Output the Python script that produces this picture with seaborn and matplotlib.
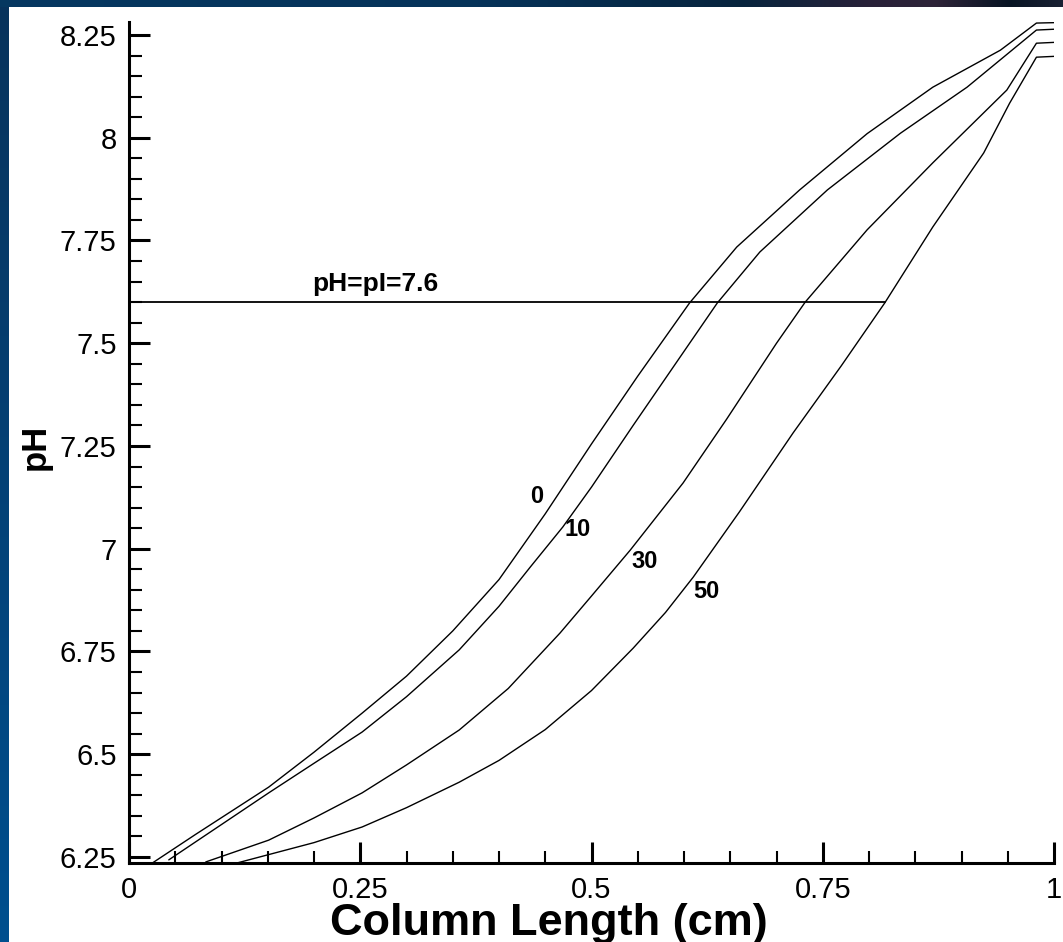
import numpy as np
import pandas as pd
import matplotlib
matplotlib.use("Agg")
import matplotlib.pyplot as plt
from matplotlib.ticker import MultipleLocator, FuncFormatter
import seaborn as sns

# ---------------- data ----------------
x_t0 = [0.025, 0.072, 0.151, 0.200, 0.252, 0.300, 0.350, 0.400, 0.450, 0.500, 0.550, 0.606, 0.657, 0.725, 0.798, 0.869, 0.942, 0.981, 1.0]
y_t0 = [6.235, 6.305, 6.420, 6.505, 6.600, 6.690, 6.800, 6.925, 7.085, 7.255, 7.420, 7.598, 7.734, 7.873, 8.010, 8.123, 8.213, 8.279, 8.280]

x_t10 = [0.043, 0.151, 0.200, 0.252, 0.300, 0.357, 0.400, 0.434, 0.469, 0.500, 0.545, 0.603, 0.636, 0.682, 0.755, 0.834, 0.906, 0.981, 1.0]
y_t10 = [6.243, 6.406, 6.478, 6.554, 6.640, 6.754, 6.860, 6.956, 7.053, 7.150, 7.300, 7.490, 7.598, 7.722, 7.873, 8.011, 8.123, 8.262, 8.264]

x_t30 = [0.083, 0.151, 0.200, 0.252, 0.300, 0.357, 0.410, 0.466, 0.500, 0.542, 0.599, 0.646, 0.700, 0.731, 0.798, 0.869, 0.949, 0.981, 1.0]
y_t30 = [6.238, 6.291, 6.345, 6.406, 6.474, 6.559, 6.660, 6.795, 6.885, 6.997, 7.160, 7.315, 7.500, 7.600, 7.776, 7.939, 8.116, 8.230, 8.232]

x_t50 = [0.116, 0.200, 0.252, 0.300, 0.357, 0.400, 0.450, 0.500, 0.545, 0.580, 0.610, 0.660, 0.718, 0.770, 0.817, 0.869, 0.924, 0.952, 0.981, 1.0]
y_t50 = [6.235, 6.285, 6.323, 6.370, 6.432, 6.485, 6.560, 6.655, 6.758, 6.845, 6.931, 7.090, 7.282, 7.445, 7.598, 7.783, 7.963, 8.084, 8.196, 8.198]

curve_times = ["0", "10", "30", "50"]
label_x = [0.441, 0.485, 0.557, 0.624]
label_y = [7.126, 7.046, 6.968, 6.897]

pI_value = 7.6
pI_line_x = [0.0, 0.817]
pI_text = "pH=pI=7.6"

x_ticks = [0, 0.25, 0.5, 0.75, 1]
y_ticks = [6.25, 6.5, 6.75, 7, 7.25, 7.5, 7.75, 8, 8.25]

# ---------------- style ----------------
sns.set_theme(style="ticks")
plt.rcParams["font.family"] = ["Liberation Sans", "DejaVu Sans"]
for k in ["text.color", "axes.labelcolor", "xtick.color", "ytick.color", "axes.edgecolor"]:
    plt.rcParams[k] = "black"

W, H = 1063, 942
fig = plt.figure(figsize=(W / 100, H / 100), dpi=100)

# background frame (blue gradient bands on left and top)
img = np.ones((H, W, 3))
ys = np.linspace(0, 1, H)[:, None]
left_top = np.array([0.03, 0.20, 0.36])
left_bot = np.array([0.00, 0.31, 0.56])
left = left_top + (left_bot - left_top) * ys
img[:, :9, :] = left[:, None, :] * np.ones((1, 9, 1))
xs = np.linspace(0, 1, W)
stops_x = [0.0, 0.45, 0.70, 0.82, 0.88, 0.95, 1.0]
stops_c = np.array([[0.02, 0.22, 0.38], [0.02, 0.20, 0.35], [0.03, 0.14, 0.24],
                    [0.16, 0.13, 0.22], [0.18, 0.14, 0.22], [0.03, 0.08, 0.14], [0.10, 0.13, 0.20]])
top = np.stack([np.interp(xs, stops_x, stops_c[:, k]) for k in range(3)], axis=1)
img[:7, :, :] = top[None, :, :]
bg = fig.add_axes([0, 0, 1, 1], zorder=-10)
bg.imshow(img, aspect="auto", extent=[0, 1, 0, 1], interpolation="bilinear")
bg.axis("off")

ax = fig.add_axes([129 / W, 1 - 863 / H, (1054 - 129) / W, (863 - 22) / H])
ax.patch.set_alpha(0)

frames = []
for t, xv, yv in zip(curve_times, [x_t0, x_t10, x_t30, x_t50], [y_t0, y_t10, y_t30, y_t50]):
    frames.append(pd.DataFrame({"x": xv, "pH": yv, "t": t}))
df = pd.concat(frames, ignore_index=True)

sns.lineplot(data=df, x="x", y="pH", hue="t", units="t", estimator=None, sort=False,
             palette=["black"] * 4, linewidth=1.0, legend=False, ax=ax)

ax.plot(pI_line_x, [pI_value, pI_value], color="black", lw=1.3)
ax.text(0.198, pI_value + 0.015, pI_text, fontsize=19, fontweight="bold", ha="left", va="bottom")
for t, lx, ly in zip(curve_times, label_x, label_y):
    ax.text(lx, ly, t, fontsize=17, fontweight="bold", ha="center", va="center")

ax.set_xlim(0, 1)
ax.set_ylim(6.2354, 8.2816)
ax.set_xticks(x_ticks)
ax.set_yticks(y_ticks)
fmt = FuncFormatter(lambda v, p: f"{v:g}")
ax.xaxis.set_major_formatter(fmt)
ax.yaxis.set_major_formatter(fmt)
ax.xaxis.set_minor_locator(MultipleLocator(0.05))
ax.yaxis.set_minor_locator(MultipleLocator(0.05))

for s in ["top", "right"]:
    ax.spines[s].set_visible(False)
for s in ["left", "bottom"]:
    ax.spines[s].set_linewidth(2.2)
    ax.spines[s].set_color("black")

ax.tick_params(which="major", direction="in", length=15, width=2.2, color="black",
               labelsize=21, pad=9, labelcolor="black")
ax.tick_params(which="minor", direction="in", length=9, width=1.5, color="black")

ax.set_xlabel("Column Length (cm)", fontsize=32.5, fontweight="bold", va="baseline")
ax.set_ylabel("pH", fontsize=25, fontweight="bold")
ax.yaxis.set_label_coords(-0.083, 0.495)
ax.xaxis.set_label_coords(0.454, -0.0855)
ax.grid(False)

fig.savefig("out.png", dpi=100)
